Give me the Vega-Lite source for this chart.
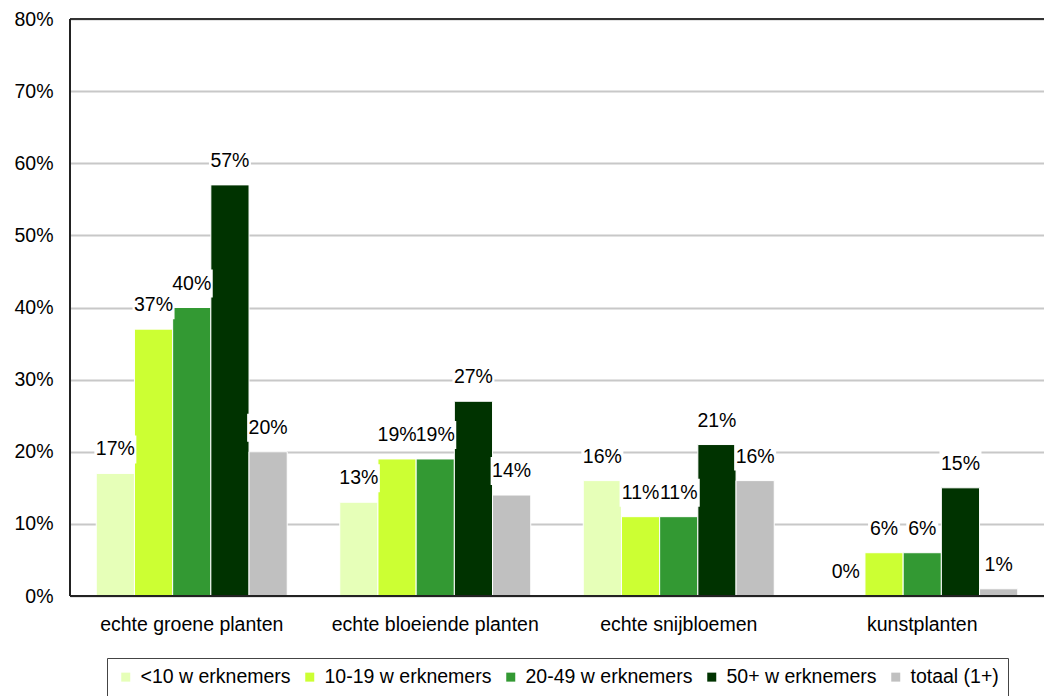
{
  "$schema": "https://vega.github.io/schema/vega-lite/v6.json",
  "width": 974,
  "height": 577,
  "autosize": {"type": "none"},
  "padding": {"left": 70, "top": 19, "right": 0, "bottom": 100},
  "background": "white",
  "config": {
    "font": "Liberation Sans",
    "view": {"stroke": null},
    "axis": {"labelFont": "Liberation Sans", "labelFontSize": 19.5, "labelColor": "#000", "title": null, "labelLimit": 400}
  },
  "data": {
    "values": [
      {"categorie": "echte groene planten", "groep": "<10 w erknemers", "waarde": 0.17},
      {"categorie": "echte groene planten", "groep": "10-19 w erknemers", "waarde": 0.37},
      {"categorie": "echte groene planten", "groep": "20-49 w erknemers", "waarde": 0.40},
      {"categorie": "echte groene planten", "groep": "50+ w erknemers", "waarde": 0.57},
      {"categorie": "echte groene planten", "groep": "totaal (1+)", "waarde": 0.20},
      {"categorie": "echte bloeiende planten", "groep": "<10 w erknemers", "waarde": 0.13},
      {"categorie": "echte bloeiende planten", "groep": "10-19 w erknemers", "waarde": 0.19},
      {"categorie": "echte bloeiende planten", "groep": "20-49 w erknemers", "waarde": 0.19},
      {"categorie": "echte bloeiende planten", "groep": "50+ w erknemers", "waarde": 0.27},
      {"categorie": "echte bloeiende planten", "groep": "totaal (1+)", "waarde": 0.14},
      {"categorie": "echte snijbloemen", "groep": "<10 w erknemers", "waarde": 0.16},
      {"categorie": "echte snijbloemen", "groep": "10-19 w erknemers", "waarde": 0.11},
      {"categorie": "echte snijbloemen", "groep": "20-49 w erknemers", "waarde": 0.11},
      {"categorie": "echte snijbloemen", "groep": "50+ w erknemers", "waarde": 0.21},
      {"categorie": "echte snijbloemen", "groep": "totaal (1+)", "waarde": 0.16},
      {"categorie": "kunstplanten", "groep": "<10 w erknemers", "waarde": 0.0},
      {"categorie": "kunstplanten", "groep": "10-19 w erknemers", "waarde": 0.06},
      {"categorie": "kunstplanten", "groep": "20-49 w erknemers", "waarde": 0.06},
      {"categorie": "kunstplanten", "groep": "50+ w erknemers", "waarde": 0.15},
      {"categorie": "kunstplanten", "groep": "totaal (1+)", "waarde": 0.01}
    ]
  },
  "encoding": {
    "x": {
      "field": "categorie",
      "type": "nominal",
      "sort": ["echte groene planten", "echte bloeiende planten", "echte snijbloemen", "kunstplanten"],
      "scale": {"paddingInner": 0.2157, "paddingOuter": 0.1078},
      "axis": {"labelAngle": 0, "ticks": false, "labelPadding": 19, "domain": false}
    },
    "xOffset": {
      "field": "groep",
      "type": "nominal",
      "sort": ["<10 w erknemers", "10-19 w erknemers", "20-49 w erknemers", "50+ w erknemers", "totaal (1+)"],
      "scale": {"paddingInner": 0, "paddingOuter": 0}
    },
    "y": {
      "field": "waarde",
      "type": "quantitative",
      "scale": {"domain": [0, 0.8], "nice": false},
      "axis": {
        "values": [0, 0.1, 0.2, 0.3, 0.4, 0.5, 0.6, 0.7, 0.8],
        "format": ".0%",
        "ticks": false,
        "labelPadding": 17,
        "grid": true,
        "gridColor": "#c8c8c8",
        "gridWidth": 2,
        "domain": false
      }
    }
  },
  "layer": [
    {
      "mark": {"type": "bar", "stroke": "white", "strokeWidth": 1},
      "encoding": {
        "color": {
          "field": "groep",
          "type": "nominal",
          "scale": {
            "domain": ["<10 w erknemers", "10-19 w erknemers", "20-49 w erknemers", "50+ w erknemers", "totaal (1+)"],
            "range": ["#e6ffb8", "#ccff33", "#339933", "#003300", "#c0c0c0"]
          },
          "legend": {
            "title": null,
            "orient": "none",
            "direction": "horizontal",
            "columns": 5,
            "legendX": 37,
            "legendY": 639,
            "symbolType": "square",
            "symbolSize": 81,
            "symbolStrokeWidth": 0,
            "labelFontSize": 19.5,
            "labelFont": "Liberation Sans",
            "labelColor": "#000",
            "labelOffset": 5,
            "columnPadding": 9,
            "padding": 9,
            "strokeColor": "#444",
            "labelLimit": 300
          }
        }
      }
    },
    {
      "mark": {"type": "point", "filled": true, "color": "white", "opacity": 1, "yOffset": -24},
      "encoding": {
        "shape": {
          "condition": {"test": "datum.waarde < 0.095", "value": "M-1,-0.875H1V0.875H-1Z"},
          "value": "M-1,-0.667H1V0.667H-1Z"
        },
        "size": {
          "condition": {"test": "datum.waarde < 0.095", "value": 1024},
          "value": 1764
        }
      }
    },
    {
      "mark": {"type": "text", "fontSize": 19.5, "font": "Liberation Sans", "color": "#000", "baseline": "middle", "yOffset": -24},
      "encoding": {
        "text": {"field": "waarde", "type": "quantitative", "format": ".0%"}
      }
    },
    {
      "mark": {"type": "rule", "color": "#333", "strokeWidth": 2},
      "encoding": {"x": {"value": 0}, "x2": {"value": 974}, "y": {"datum": 0.8}, "xOffset": null}
    },
    {
      "mark": {"type": "rule", "color": "#222", "strokeWidth": 2},
      "encoding": {"x": {"value": 0}, "x2": {"value": 974}, "y": {"datum": 0}, "xOffset": null}
    },
    {
      "mark": {"type": "rule", "color": "#222", "strokeWidth": 2},
      "encoding": {"x": {"value": 0}, "y": {"datum": 0}, "y2": {"datum": 0.8}, "xOffset": null}
    }
  ]
}
